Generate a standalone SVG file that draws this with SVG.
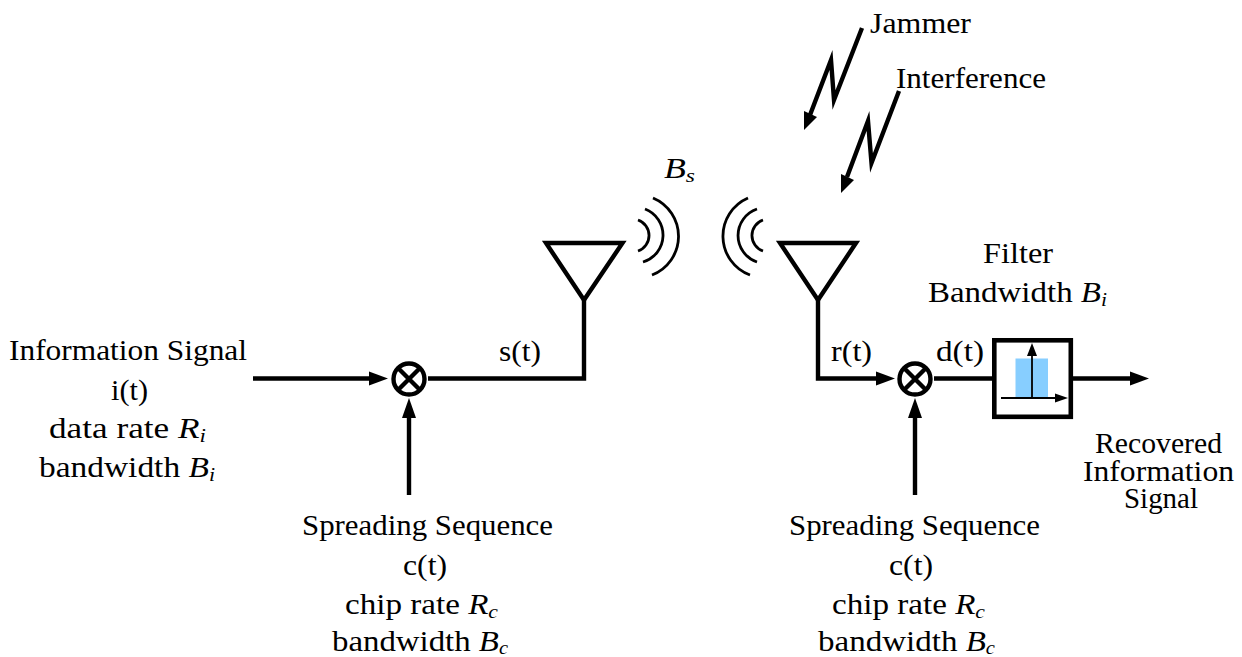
<svg xmlns="http://www.w3.org/2000/svg" width="1242" height="657" viewBox="0 0 1242 657">
<style>
text{font-family:"Liberation Serif","Times New Roman",serif;font-size:29px;fill:#000}
tspan.i{font-style:italic}
tspan.s{font-style:italic;font-size:19px}
tspan.l{font-style:italic;font-size:18px}
.w{fill:none;stroke:#000;stroke-width:4.4;stroke-miterlimit:12}
.a{fill:none;stroke:#000;stroke-width:2.8}
.h{fill:#000;stroke:none}
.b{fill:none;stroke:#000;stroke-width:4.6}
</style>
<rect width="1242" height="657" fill="#fff"/>
<g id="connectors">
<path class="w" d="M253 378.500H372"/><polygon class="h" points="388,378.500 369,371.500 369,385.500"/>
<path class="w" d="M409 495V416"/><polygon class="h" points="409,398 402,418 416,418"/>
<path class="w" d="M428 378.500H584V300"/>
<path class="w" d="M818 300V378.500H878"/><polygon class="h" points="895,378.500 876,371.500 876,385.500"/>
<path class="w" d="M915 495V416"/><polygon class="h" points="915,398 908,418 922,418"/>
<path class="w" d="M934 378.500H993"/>
<path class="w" d="M1071 378.500H1132"/><polygon class="h" points="1149,378.500 1130,371.500 1130,385.500"/>
<path class="w" d="M862 28L834 100L831 60L810 115"/><polygon class="h" points="804,130 804,111 817,117"/>
<path class="w" d="M899 91L871.500 163L868 121L847 177"/><polygon class="h" points="841,193 841,174 854,180"/>
</g>
<g id="mixer-tx"><circle class="w" cx="409" cy="379" r="15.500"/><path class="w" d="M398 368L420 390M420 368L398 390"/></g>
<g id="mixer-rx"><circle class="w" cx="915" cy="379" r="15.500"/><path class="w" d="M904 368L926 390M926 368L904 390"/></g>
<g id="antenna-tx"><polygon class="w" points="546,243 622.500,243 584,300"/>
<path class="a" d="M638 220A16.400 16.400 0 0 1 638 251"/><path class="a" d="M645 209A28 28 0 0 1 643 262"/><path class="a" d="M653 198A41.500 41.500 0 0 1 652 275"/></g>
<g id="antenna-rx"><polygon class="w" points="780,243 856,243 818,300"/>
<path class="a" d="M763 220A16.400 16.400 0 0 0 763 251"/><path class="a" d="M757 209A28 28 0 0 0 757 262"/><path class="a" d="M748 198A41.500 41.500 0 0 0 750 275"/></g>
<g id="filter">
<rect class="b" x="994.300" y="340.300" width="76.500" height="76.500"/>
<rect x="1015.500" y="358.500" width="32.500" height="39.500" fill="#87ceff"/>
<path d="M1032 398V354M1001 398H1057" fill="none" stroke="#000" stroke-width="1.800"/>
<polygon class="h" points="1032,343 1027,356 1037,356"/><polygon class="h" points="1068,398 1055,393.500 1055,402.500"/>
</g>
<g id="label-info">
<text x="9" y="360" textLength="238" lengthAdjust="spacingAndGlyphs">Information Signal</text>
<text x="111" y="400" textLength="37" lengthAdjust="spacingAndGlyphs">i(t)</text>
<text x="49" y="438" textLength="157" lengthAdjust="spacingAndGlyphs">data rate <tspan class="i">R</tspan><tspan class="s" dy="4">i</tspan></text>
<text x="39" y="477" textLength="176" lengthAdjust="spacingAndGlyphs">bandwidth <tspan class="i">B</tspan><tspan class="s" dy="4">i</tspan></text>
</g>
<g id="label-spread-tx">
<text x="302" y="535" textLength="251" lengthAdjust="spacingAndGlyphs">Spreading Sequence</text>
<text x="403" y="575" textLength="44" lengthAdjust="spacingAndGlyphs">c(t)</text>
<text x="345" y="614" textLength="153" lengthAdjust="spacingAndGlyphs">chip rate <tspan class="i">R</tspan><tspan class="s" dy="4">c</tspan></text>
<text x="332" y="650.500" textLength="176" lengthAdjust="spacingAndGlyphs">bandwidth <tspan class="i">B</tspan><tspan class="l" dy="3">c</tspan></text>
</g>
<g id="label-spread-rx">
<text x="789" y="535" textLength="251" lengthAdjust="spacingAndGlyphs">Spreading Sequence</text>
<text x="889" y="575" textLength="44" lengthAdjust="spacingAndGlyphs">c(t)</text>
<text x="832" y="614" textLength="153" lengthAdjust="spacingAndGlyphs">chip rate <tspan class="i">R</tspan><tspan class="s" dy="4">c</tspan></text>
<text x="818" y="650.500" textLength="177" lengthAdjust="spacingAndGlyphs">bandwidth <tspan class="i">B</tspan><tspan class="l" dy="3">c</tspan></text>
</g>
<g id="labels">
<text x="499" y="361" textLength="42" lengthAdjust="spacingAndGlyphs">s(t)</text>
<text x="831" y="361" textLength="41" lengthAdjust="spacingAndGlyphs">r(t)</text>
<text x="936" y="361" textLength="48" lengthAdjust="spacingAndGlyphs">d(t)</text>
<text x="664" y="178" textLength="31" lengthAdjust="spacingAndGlyphs"><tspan class="i">B</tspan><tspan class="s" dy="4">s</tspan></text>
<text x="870" y="33" textLength="101" lengthAdjust="spacingAndGlyphs">Jammer</text>
<text x="896" y="88" textLength="150" lengthAdjust="spacingAndGlyphs">Interference</text>
<text x="983" y="263" textLength="70" lengthAdjust="spacingAndGlyphs">Filter</text>
<text x="928" y="302" textLength="179" lengthAdjust="spacingAndGlyphs">Bandwidth <tspan class="i">B</tspan><tspan class="s" dy="4">i</tspan></text>
<text x="1095" y="453" textLength="127" lengthAdjust="spacingAndGlyphs">Recovered</text>
<text x="1083" y="481" textLength="151" lengthAdjust="spacingAndGlyphs">Information</text>
<text x="1124" y="508" textLength="74" lengthAdjust="spacingAndGlyphs">Signal</text>
</g>
</svg>
